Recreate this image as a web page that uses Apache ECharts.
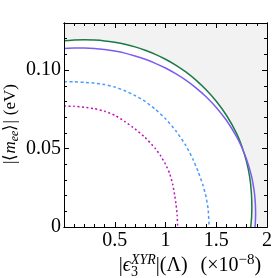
<!DOCTYPE html>
<html><head><meta charset="utf-8">
<script src="https://cdn.jsdelivr.net/npm/echarts@6/dist/echarts.min.js"></script>
<style>html,body{margin:0;padding:0;background:#fff}#c{width:275px;height:278px}</style>
</head><body><div id="c"></div>
<script>
// Data (x in units of 1e-8, y in eV)
var greenX = [0, 0.1, 0.2, 0.3, 0.4, 0.5, 0.6, 0.7, 0.8, 0.9, 1.0, 1.1, 1.2, 1.3, 1.4, 1.5, 1.6, 1.7, 1.75, 1.8, 1.83, 1.845, 1.8508, 1.848, 1.84];
var greenY = [0.1187, 0.1191, 0.1193, 0.1191, 0.1186, 0.1177, 0.1165, 0.1148, 0.1126, 0.1100, 0.1069, 0.1032, 0.0988, 0.0936, 0.0874, 0.0801, 0.0712, 0.0597, 0.0517, 0.0412, 0.0316, 0.0226, 0.0130, 0.0060, 0];
var purpleX = [0, 0.1, 0.2, 0.3, 0.4, 0.5, 0.6, 0.7, 0.8, 0.9, 1.0, 1.1, 1.2, 1.3, 1.4, 1.5, 1.6, 1.7, 1.75, 1.8, 1.84, 1.86, 1.88, 1.888, 1.885, 1.882];
var purpleY = [0.1138, 0.1141, 0.1141, 0.1138, 0.1131, 0.1121, 0.1108, 0.1090, 0.1069, 0.1043, 0.1013, 0.0977, 0.0936, 0.0887, 0.0830, 0.0762, 0.0680, 0.0576, 0.0510, 0.0429, 0.0343, 0.0284, 0.0194, 0.0090, 0.0026, 0];
var blueX = [0, 0.1, 0.2, 0.3, 0.4, 0.5, 0.6, 0.7, 0.8, 0.9, 1.0, 1.1, 1.2, 1.27, 1.32, 1.37, 1.40, 1.42, 1.43];
var blueY = [0.0926, 0.0925, 0.0922, 0.0917, 0.0908, 0.0892, 0.0868, 0.0838, 0.0800, 0.0750, 0.0690, 0.0615, 0.0520, 0.0432, 0.0355, 0.0265, 0.0190, 0.0115, 0];
var magentaX = [0, 0.1, 0.2, 0.3, 0.4, 0.5, 0.6, 0.7, 0.8, 0.9, 0.95, 1.0, 1.04, 1.07, 1.09, 1.105, 1.115, 1.12];
var magentaY = [0.0771, 0.0769, 0.0763, 0.0754, 0.0738, 0.0712, 0.0672, 0.0625, 0.0570, 0.0500, 0.0456, 0.0400, 0.0342, 0.0275, 0.0205, 0.0140, 0.0075, 0];
var xTickLabels = ['0.5', '1', '1.5', '2'];
var yTickLabels = ['0', '0.05', '0.10'];

function zip(xs, ys) { return xs.map(function (x, i) { return [x, ys[i]]; }); }

var FONT = 'Liberation Serif';
var chart = echarts.init(document.getElementById('c'), null, {renderer: 'canvas'});

function xAx(pos, interval, len, labels) {
  return {
    type: 'value', position: pos, min: 0, max: 2, interval: interval, z: 10,
    axisLine: {show: true, onZero: false, lineStyle: {color: '#000', width: 1}},
    axisTick: {show: true, inside: true, length: len, lineStyle: {color: '#000', width: 1}},
    axisLabel: {show: labels, showMinLabel: false, margin: 4, color: '#000', fontFamily: FONT, fontSize: 20,
      formatter: function (v) { var s = String(v); return xTickLabels.indexOf(s) >= 0 ? s : ''; }},
    splitLine: {show: false}
  };
}
function yAx(pos, interval, len, labels) {
  return {
    type: 'value', position: pos, min: 0, max: 0.13, interval: interval, z: 10,
    axisLine: {show: true, onZero: false, lineStyle: {color: '#000', width: 1}},
    axisTick: {show: true, inside: true, length: len, lineStyle: {color: '#000', width: 1}},
    axisLabel: {show: labels, showMaxLabel: false, margin: 3, color: '#000', fontFamily: FONT, fontSize: 20,
      formatter: function (v) { var s = v === 0 ? '0' : v.toFixed(2); return yTickLabels.indexOf(s) >= 0 ? s : ''; }},
    splitLine: {show: false}
  };
}
function line(name, xs, ys, color, type, z, area) {
  var s = {
    name: name, type: 'line', data: zip(xs, ys), smooth: 0.15, symbol: 'none', z: z,
    xAxisIndex: 0, yAxisIndex: 0,
    lineStyle: {color: color, width: 1.5, type: type}
  };
  if (area) s.areaStyle = {color: '#ffffff', opacity: 1};
  return s;
}

// text layout helper for titles with sub/superscripts
var mctx = document.createElement('canvas').getContext('2d');
function fontStr(size, italic) { return (italic ? 'italic ' : '') + size + 'px "' + FONT + '"'; }
function tw(t, size, italic) { mctx.font = fontStr(size, italic); return mctx.measureText(t).width; }
function layout(pieces) {
  var x = 0, els = [], pendingW = 0;
  pieces.forEach(function (p) {
    if (p.gap) { x += p.gap; return; }
    var w = tw(p.t, p.size, p.italic);
    els.push({type: 'text', x: x, y: p.dy || 0,
      style: {text: p.t, font: fontStr(p.size, p.italic), fill: '#000', align: 'left', verticalAlign: 'middle'}});
    if (p.stack) { pendingW = Math.max(pendingW, w); }
    else { x += Math.max(w, pendingW); pendingW = 0; }
  });
  return {els: els, width: x};
}
var xTitle = layout([
  {t: '|', size: 20}, {t: 'ϵ', size: 20, italic: true},
  {t: '3', size: 14, dy: 6, stack: true}, {t: 'XYR', size: 14, italic: true, dy: -6},
  {t: '|(Λ)', size: 20}, {gap: 13},
  {t: '(×10', size: 20}, {t: '−8', size: 15, dy: -6}, {t: ')', size: 20}
]);
var yTitle = layout([
  {t: '|⟨', size: 17}, {t: 'm', size: 17, italic: true}, {t: 'ee', size: 12, italic: true, dy: 4},
  {t: '⟩|', size: 17}, {gap: 5}, {t: '(eV)', size: 17}
]);

chart.setOption({
  animation: false,
  grid: {left: 64, top: 23, width: 204, height: 204, show: true, backgroundColor: '#f2f2f2', borderWidth: 0},
  xAxis: [xAx('bottom', 0.5, 5, true), xAx('bottom', 0.1, 3, false), xAx('top', 0.5, 5, false), xAx('top', 0.1, 3, false)],
  yAxis: [yAx('left', 0.05, 5, true), yAx('left', 0.01, 3, false), yAx('right', 0.05, 5, false), yAx('right', 0.01, 3, false)],
  series: [
    line('green', greenX, greenY, '#1b7a45', 'solid', 3, true),
    line('purple', purpleX, purpleY, '#7b5cf2', 'solid', 4, false),
    line('blue', blueX, blueY, '#4a9bff', [3, 2.5], 5, false),
    line('magenta', magentaX, magentaY, '#c010c0', [2, 2.5], 6, false)
  ],
  graphic: [
    {type: 'group', x: 190 - xTitle.width / 2, y: 266, z: 100, children: xTitle.els},
    {type: 'group', x: 11, y: 124 + yTitle.width / 2, rotation: Math.PI / 2, z: 100, children: yTitle.els}
  ]
});
</script></body></html>
